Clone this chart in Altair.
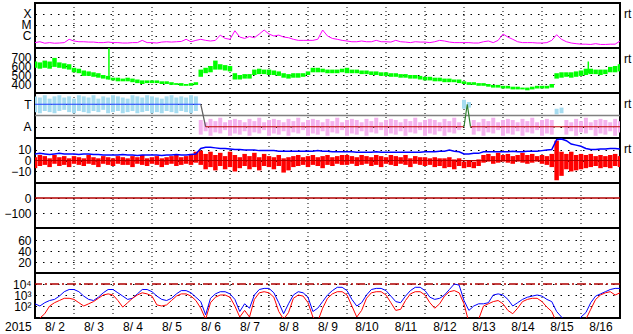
import altair as alt
import pandas as pd

FONT = "Liberation Sans"
FS = 12
W, H = 585, 45

T0 = pd.Timestamp("2015-08-02T00:00:00Z")
def ts(hours):
    return (T0 + pd.Timedelta(hours=hours)).strftime("%Y-%m-%dT%H:%M:%SZ")

# 3-hourly samples, 2015-08-02 00UT .. 2015-08-17 00UT
times = [ts(3 * i) for i in range(121)]

# ---- GOES X-ray flux (W/m2) ----
xray = [2.5e-7, 3e-7, 2.2e-7, 2.5e-7, 2.2e-7, 2.3e-7, 2.5e-7, 5e-7,
        3.5e-7, 3e-7, 3e-7, 2.8e-7, 2.8e-7, 2.5e-7, 2.5e-7, 2.8e-7,
        2.5e-7, 2.5e-7, 2.3e-7, 2.3e-7, 2.5e-7, 2.5e-7, 4e-7, 2.5e-7,
        2.5e-7, 2.3e-7, 2.8e-7, 3e-7, 2.8e-7, 3e-7, 3.2e-7, 5e-7,
        3e-7, 4e-7, 5e-7, 4e-7, 3.5e-7, 4e-7, 1.2e-6, 6e-7,
        5e-7, 3e-6, 8e-7, 6e-7, 9e-7, 7e-7, 1.5e-6, 3.5e-6,
        1.5e-6, 1e-6, 1.2e-6, 8e-7, 7e-7, 5e-7, 4e-7, 4e-7,
        4e-7, 4e-7, 5e-7, 3.5e-6, 1e-6, 6e-7, 5e-7, 4e-7,
        3.5e-7, 3e-7, 3e-7, 3.5e-7, 3e-7, 3e-7, 4e-7, 3e-7,
        3e-7, 2.8e-7, 4e-7, 3e-7, 2.8e-7, 2.5e-7, 3e-7, 2.8e-7,
        2.8e-7, 2.5e-7, 3e-7, 4e-7, 3.5e-7, 2.8e-7, 2.5e-7, 2.5e-7,
        2.5e-7, 2.5e-7, 2.3e-7, 2.3e-7, 3e-7, 3.5e-7, 2.5e-7, 4e-7,
        1.5e-6, 8e-7, 5e-7, 3e-7, 2.5e-7, 2.5e-7, 2.5e-7, 2.3e-7,
        2.3e-7, 2.5e-7, 4e-7, 1.3e-6, 5e-7, 3e-7, 2.3e-7, 2e-7,
        1.8e-7, 1.8e-7, 1.7e-7, 2e-7, 1.7e-7, 1.7e-7, 1.8e-7, 1.8e-7, 3.5e-7]

# ---- Solar wind speed (km/s), min / max in each 3h ----
speed_lo = [580, 570, 580, 570, 590, 580, 570, 560,
            530, 520, 490, 490, 480, 470, 460, 450,
            440, 430, 430, 430, 420, 410, 400, 410,
            410, 410, 400, 400, 390, 390, 380, 380,
            380, 390, 480, 520, 530, 560, 560, 550,
            540, 450, 450, 460, 460, 500, 510, 510,
            500, 500, 490, 470, 460, 470, 470, 480,
            500, 530, 530, 530, 520, 520, 520, 530,
            520, 520, 520, 510, 510, 500, 500, 490,
            490, 480, 480, 470, 470, 460, 460, 450,
            440, 440, 430, 430, 420, 420, 420, 410,
            400, 390, 390, 380, 380, 370, 360, 360,
            350, 350, 340, 340, 340, 330, 340, 350,
            350, 350, 360, 460, 470, 480, 470, 480,
            490, 500, 510, 510, 500, 510, 530, 530, 540]
speed_hi = [650, 640, 660, 650, 690, 640, 630, 620,
            580, 570, 550, 540, 530, 520, 500, 490,
            470, 470, 460, 470, 460, 450, 440, 440,
            440, 440, 430, 430, 420, 410, 410, 400,
            410, 420, 560, 580, 600, 660, 620, 610,
            600, 520, 500, 510, 510, 560, 570, 560,
            560, 550, 540, 520, 510, 520, 520, 520,
            540, 580, 580, 570, 560, 560, 560, 570,
            580, 560, 560, 550, 550, 540, 540, 530,
            530, 520, 520, 510, 510, 500, 500, 490,
            480, 480, 470, 470, 460, 460, 450, 450,
            430, 420, 420, 410, 410, 400, 390, 390,
            380, 380, 370, 370, 360, 360, 370, 380,
            380, 380, 400, 520, 530, 530, 530, 540,
            550, 570, 570, 560, 560, 560, 590, 600, 620]
spike_times = ["2015-08-03T21:30:00Z", "2015-08-16T04:30:00Z"]
spike_lo = [450, 520]
spike_hi = [800, 650]

# ---- IMF phi sector (T = +0.5, A = -0.5), min / max in each 3h ----
phi_lo = [0.15, 0.1, 0.2, 0.15, 0.1, 0.2, 0.25, 0.15, 0.1, 0.2, 0.15, 0.1, 0.2, 0.15, 0.25, 0.1,
          0.15, 0.2, 0.1, 0.15, 0.2, 0.1, 0.15, 0.2, 0.1, 0.15, 0.1, 0.2, 0.15, 0.1, 0.2, 0.15, 0.1, 0.2,
          -0.85, -0.7, -0.9, -0.75, -0.8, -0.65, -0.9, -0.8, -0.85, -0.7, -0.9, -0.75, -0.8, -0.65,
          -0.9, -0.8, -0.85, -0.7, -0.9, -0.75, -0.8, -0.65, -0.9, -0.8, -0.85, -0.7, -0.9, -0.75,
          -0.8, -0.65, -0.9, -0.8, -0.85, -0.7, -0.9, -0.75, -0.8, -0.65, -0.9, -0.8, -0.85, -0.7,
          -0.9, -0.75, -0.8, -0.65, -0.9, -0.8, -0.85, -0.7, -0.9, -0.75, -0.8, -0.65,
          0.3, 0.35,
          -0.85, -0.7, -0.9, -0.75, -0.8, -0.65, -0.9, -0.8, -0.85, -0.7, -0.9, -0.75, -0.8, -0.65,
          -0.9, -0.8, -0.85,
          0.05, 0.1,
          -0.85, -0.7, -0.9, -0.75, -0.8, -0.65, -0.9, -0.8, -0.85, -0.7, -0.9, -0.75]
phi_hi = [0.85, 0.8, 0.9, 0.75, 0.85, 0.9, 0.8, 0.85, 0.75, 0.9, 0.85, 0.8, 0.9, 0.75, 0.85, 0.8,
          0.9, 0.85, 0.8, 0.75, 0.9, 0.85, 0.8, 0.9, 0.85, 0.8, 0.75, 0.85, 0.9, 0.8, 0.85, 0.8, 0.9, 0.85,
          -0.2, -0.3, -0.15, -0.25, -0.1, -0.3, -0.2, -0.15, -0.2, -0.3, -0.15, -0.25, -0.1, -0.3,
          -0.2, -0.15, -0.2, -0.3, -0.15, -0.25, -0.1, -0.3, -0.2, -0.15, -0.2, -0.3, -0.15, -0.25,
          -0.1, -0.3, -0.2, -0.15, -0.2, -0.3, -0.15, -0.25, -0.1, -0.3, -0.2, -0.15, -0.2, -0.3,
          -0.15, -0.25, -0.1, -0.3, -0.2, -0.15, -0.2, -0.3, -0.15, -0.25, -0.1, -0.3,
          0.7, 0.6,
          -0.2, -0.3, -0.15, -0.25, -0.1, -0.3, -0.2, -0.15, -0.2, -0.3, -0.15, -0.25, -0.1, -0.3,
          -0.2, -0.15, -0.2,
          0.3, 0.35,
          -0.2, -0.3, -0.15, -0.25, -0.1, -0.3, -0.2, -0.15, -0.2, -0.3, -0.15, -0.25]
sector_times = ["2015-08-02T00:00:00Z", "2015-08-06T06:00:00Z",
                "2015-08-06T06:00:00Z", "2015-08-06T09:00:00Z",
                "2015-08-06T09:00:00Z", "2015-08-13T00:00:00Z",
                "2015-08-13T00:00:00Z", "2015-08-13T02:00:00Z", "2015-08-13T04:00:00Z",
                "2015-08-13T04:00:00Z", "2015-08-17T00:00:00Z"]
sector_vals = [0.5, 0.5, 0.5, -0.5, -0.5, -0.5, -0.5, 0.5, -0.5, -0.5, -0.5]
sector_seg = ["T", "T", "X", "X", "A1", "A1", "S", "S", "S", "A2", "A2"]

# ---- IMF Bt and Bz (nT) ----
bt = [6, 6.5, 6, 5.5, 6, 6.5, 6, 6, 6, 5.5, 6, 6, 5.5, 5.5, 5, 5,
      5, 5, 5.5, 5, 5, 4.5, 5, 5, 5, 5, 4.5, 5, 5, 5.5, 5, 5, 5.5, 6,
      11, 12, 12, 11.5, 11, 11, 10.5,
      10, 10, 9.5, 9.5, 9.5, 9, 9,
      9, 9, 8.5, 8.5, 8.5, 8.5, 8.5, 8.5, 8.5, 8.5, 9, 8.5, 8.5, 8, 8, 8,
      8, 8, 7.5, 7.5, 7.5, 7.5, 8, 7.5, 7.5, 7.5, 7.5, 7.5, 7.5, 7.5, 7.5, 7.5, 8, 8, 8, 8.5,
      8.5, 9.5, 8.5, 8,
      6, 6, 6.5, 6.5,
      8, 8, 8, 8, 8, 8, 8.5, 8, 8, 8.5, 8.5, 8.5, 9,
      9.5, 10,
      19, 19.5, 18,
      15, 14, 13,
      11, 10, 10, 10.5,
      10.5, 11, 11, 10.5]
bz_lo = [-7, -5, -4, -6, -3, -5, -4, -6, -3, -4, -5, -3, -4, -6, -3, -4,
         -5, -3, -4, -4, -6, -3, -4, -5, -3, -4, -6, -4, -3, -5, -4, -3, -4, -2,
         -4, -8, -6, -9, -5, -8, -6, -10, -7, -5, -8, -6, -9, -5,
         -6, -8, -5, -11, -9, -6, -5, -4, -6, -4, -5, -7, -4, -5, -3, -4,
         -4, -3, -5, -4, -3, -5, -4, -6, -3, -4, -5, -3, -4, -6, -3, -4, -5, -4, -6, -5,
         -7, -6, -8, -5,
         -7, -6, -7, -5,
         -2, -1, -3, -2, -1, -2, -3, -1, -2, -3, -2, -1, -3,
         -4, -6,
         -18, -14, -8,
         -10, -9, -8,
         -7, -6, -5, -7,
         -6, -7, -5, -6]
bz_hi = [3, 5, 4, 2, 5, 3, 4, 2, 4, 3, 2, 5, 3, 2, 4, 3,
         2, 4, 3, 2, 4, 3, 5, 2, 3, 4, 2, 3, 4, 5, 3, 4, 6, 8,
         9, 6, 8, 5, 7, 4, 8, 5, 3, 6, 4, 7, 3, 6,
         4, 3, 5, 2, 3, 4, 5, 3, 4, 5, 3, 4, 5, 3, 4, 5,
         5, 4, 3, 5, 4, 3, 5, 4, 3, 5, 4, 3, 5, 2, 4, 3, 3, 2, 3, 2,
         2, 3, 1, 2,
         -1, 0, -1, 1,
         5, 6, 4, 7, 5, 6, 4, 5, 7, 5, 6, 4, 5,
         4, 6,
         18, 8, 6,
         8, 5, 6,
         5, 6, 4, 5,
         4, 5, 6, 4]

# ---- GOES particle flux, log10 ----
flux_blue = [2.2, 2.0, 2.3, 2.5, 2.6, 2.9, 3.3, 3.5,
             3.5, 3.3, 2.9, 2.6, 2.5, 2.8, 3.2, 3.5,
             3.5, 3.2, 2.9, 2.6, 2.7, 3.1, 3.5, 3.5,
             3.3, 2.9, 2.6, 2.5, 2.7, 3.1, 3.4, 3.4,
             3.2, 2.8, 2.4, 1.2, 2.7, 3.1, 3.3, 3.3,
             3.1, 2.6, 1.5, 2.2, 1.8, 3.0, 3.5, 3.6,
             3.6, 3.2, 2.3, 1.3, 2.2, 3.0, 3.3, 3.2,
             2.8, 1.5, 1.8, 2.4, 3.0, 3.4, 3.7, 3.7,
             3.4, 2.6, 2.0, 2.3, 3.0, 3.5, 3.6, 3.6,
             3.4, 2.9, 2.4, 2.3, 2.9, 3.4, 3.7, 3.7,
             3.4, 2.8, 2.6, 2.7, 3.0, 3.5, 4.0, 3.9,
             2.5, 1.6, 2.0, 2.2, 2.2, 2.3, 3.0, 3.1,
             3.0, 2.6, 2.0, 2.3, 2.6, 2.8, 2.9, 3.0,
             2.9, 2.6, 2.4, 1.5, 1.0, 0.5, 0.5, 0.5,
             1.0, 1.4, 2.3, 2.9, 3.1, 3.3, 3.5, 3.6, 3.6]
flux_red = [0.5, 0.9, 1.3, 2.0, 2.3, 2.5, 2.7, 2.7,
            2.6, 2.3, 2.0, 2.2, 2.4, 2.7, 3.0, 3.1,
            3.0, 2.5, 1.9, 2.3, 2.7, 3.0, 3.2, 3.1,
            2.9, 2.1, 2.0, 2.1, 2.5, 2.9, 3.1, 3.1,
            2.9, 2.5, 1.8, 0.8, 2.3, 2.8, 3.0, 3.0,
            2.8, 2.0, 1.0, 1.6, 1.0, 2.6, 3.2, 3.3,
            3.2, 2.8, 1.5, 0.8, 1.4, 2.7, 3.0, 2.9,
            2.3, 1.0, 0.6, 1.8, 2.7, 3.1, 3.3, 3.3,
            3.0, 2.0, 1.0, 1.6, 2.7, 3.2, 3.3, 3.3,
            3.0, 2.3, 1.6, 1.7, 2.5, 3.1, 3.3, 3.3,
            3.0, 2.3, 1.8, 2.2, 2.9, 3.3, 3.4, 3.2,
            2.2, 0.5, 0.5, 0.8, 2.0, 2.2, 2.4, 2.5,
            2.2, 1.6, 1.3, 1.8, 2.4, 2.6, 2.7, 2.7,
            2.4, 1.9, 1.5, 0.5, 0.5, 0.5, 0.5, 0.5,
            0.5, 0.8, 1.7, 2.6, 3.0, 3.2, 3.3, 3.0, 3.2]

grid_days = ["2015-08-%02dT00:00:00Z" % d for d in range(3, 17)]

# ------------------------------------------------------------------
xscale = alt.Scale(type="utc",
                   domain=[alt.DateTime(year=2015, month=8, date=2, utc=True),
                           alt.DateTime(year=2015, month=8, date=17, utc=True)])

x_none = alt.X("t:T", scale=xscale, axis=None)
x_bottom = alt.X("t:T", scale=xscale,
                 axis=alt.Axis(values=[alt.DateTime(year=2015, month=8, date=d, hours=12, utc=True)
                                       for d in range(2, 17)],
                               labelExpr="utcFormat(datum.value, '%-m/%e')",
                               grid=False, ticks=False, domain=False, title=None,
                               labelPadding=3, labelFontSize=FS, labelFont=FONT,
                               labelColor="black", labelFlush=False, labelOverlap=False))


def yaxis(values, expr=None):
    kw = dict(values=values, grid=True, gridDash=[1.5, 6], gridColor="black", gridWidth=1,
              ticks=False, domain=False, title=None, labelPadding=4, labelFontSize=FS,
              labelFont=FONT, labelColor="black", labelOverlap=False, labelFlush=False)
    if expr:
        kw["labelExpr"] = expr
    return alt.Axis(**kw)


def vgrid(x):
    return alt.Chart(pd.DataFrame({"t": grid_days})).mark_rule(
        color="black", strokeDash=[1, 3], strokeWidth=1).encode(x=x)


def rt_label():
    return alt.Chart(pd.DataFrame({"s": ["rt"]})).mark_text(
        align="left", baseline="middle", fontSize=FS, font=FONT, color="black"
    ).encode(text="s:N", x=alt.value(W + 4), y=alt.value(11))


# Panel 1: X-ray
d1 = pd.DataFrame({"t": times, "v": xray})
ax1 = yaxis([1e-4, 1e-5, 1e-6], "datum.value > 5e-5 ? 'X' : (datum.value > 5e-6 ? 'M' : 'C')")
y1 = alt.Y("v:Q", scale=alt.Scale(type="log", domain=[8.1e-8, 1e-3]), axis=ax1)
p1 = alt.layer(
    vgrid(x_none),
    alt.Chart(d1).mark_line(color="#ff00ff", strokeWidth=1, clip=True).encode(x=x_none, y=y1),
    rt_label(),
).properties(width=W, height=H)

# Panel 2: speed
d2 = pd.DataFrame({"t": times, "lo": speed_lo, "hi": speed_hi})
d2s = pd.DataFrame({"t": spike_times, "lo": spike_lo, "hi": spike_hi})
sp_scale = alt.Scale(domain=[300, 800])
ax2 = yaxis([400, 500, 600, 700])
p2 = alt.layer(
    vgrid(x_none),
    alt.Chart(d2).mark_rule(color="#00ff00", strokeWidth=4.5, clip=True).encode(
        x=x_none, y=alt.Y("lo:Q", scale=sp_scale, axis=ax2), y2="hi:Q"),
    alt.Chart(d2s).mark_rule(color="#00ff00", strokeWidth=1.5, clip=True).encode(
        x=x_none, y=alt.Y("lo:Q", scale=sp_scale, axis=ax2), y2="hi:Q"),
    rt_label(),
).properties(width=W, height=H)

# Panel 3: phi
d3 = pd.DataFrame({"t": times, "lo": phi_lo, "hi": phi_hi})
ph_scale = alt.Scale(domain=[-1, 1])
ax3 = yaxis([0.5, -0.5], "datum.value > 0 ? 'T' : 'A'")
d3s = pd.DataFrame({"t": sector_times, "v": sector_vals, "seg": sector_seg})
p3 = alt.layer(
    vgrid(x_none),
    alt.Chart(d3).mark_rule(strokeWidth=4, clip=True).encode(
        x=x_none,
        y=alt.Y("lo:Q", scale=ph_scale, axis=ax3),
        y2="hi:Q",
        color=alt.condition("datum.hi > 0", alt.value("#a6dcf0"), alt.value("#f4b2ee"))),
    alt.Chart(pd.DataFrame({"v": [0]})).mark_rule(color="#808080", strokeWidth=1.5).encode(
        y=alt.Y("v:Q", scale=ph_scale, axis=ax3)),
    alt.Chart(d3s).mark_line(strokeWidth=1.2, clip=True).encode(
        x=x_none, y=alt.Y("v:Q", scale=ph_scale, axis=ax3), detail="seg:N",
        color=alt.Color("seg:N", legend=None,
                        scale=alt.Scale(domain=["T", "X", "A1", "S", "A2"],
                                        range=["#2040ff", "#606060", "#c00000", "#308030", "#c00000"]))),
    rt_label(),
).properties(width=W, height=H)

# Panel 4: Bt / Bz
d4 = pd.DataFrame({"t": times, "lo": bz_lo, "hi": bz_hi, "bt": bt})
b_scale = alt.Scale(domain=[-20.5, 20.5])
ax4 = yaxis([10, 0, -10])
p4 = alt.layer(
    vgrid(x_none),
    alt.Chart(d4).mark_rule(color="#ff0000", strokeWidth=4.5, clip=True).encode(
        x=x_none, y=alt.Y("lo:Q", scale=b_scale, axis=ax4), y2="hi:Q"),
    alt.Chart(pd.DataFrame({"v": [0]})).mark_rule(color="#b00000", strokeWidth=1.2).encode(
        y=alt.Y("v:Q", scale=b_scale, axis=ax4)),
    alt.Chart(d4).mark_line(color="#0000ff", strokeWidth=1.5, clip=True).encode(
        x=x_none, y=alt.Y("bt:Q", scale=b_scale, axis=ax4)),
    rt_label(),
).properties(width=W, height=H)

# Panel 5: Dst (no data, reference line)
d_scale5 = alt.Scale(domain=[-200, 100])
p5 = alt.layer(
    vgrid(x_none),
    alt.Chart(pd.DataFrame({"v": [0]})).mark_rule(color="#b00000", strokeWidth=1.5).encode(
        y=alt.Y("v:Q", scale=d_scale5, axis=yaxis([0, -100]))),
).properties(width=W, height=H)

# Panel 6: empty
d_scale6 = alt.Scale(domain=[0, 82])
p6 = alt.layer(
    vgrid(x_none),
    alt.Chart(pd.DataFrame({"v": [20]})).mark_rule(opacity=0).encode(
        y=alt.Y("v:Q", scale=d_scale6, axis=yaxis([20, 40, 60]))),
).properties(width=W, height=H)

# Panel 7: particle flux
d7 = pd.DataFrame({"t": times, "blue": flux_blue, "red": flux_red})
f_scale = alt.Scale(domain=[0.91, 5.0])
ax7 = yaxis([2, 3, 4], "datum.value == 4 ? '10⁴' : (datum.value == 3 ? '10³' : '10²')")
p7 = alt.layer(
    vgrid(x_bottom),
    alt.Chart(pd.DataFrame({"v": [4]})).mark_rule(
        color="#b00000", strokeWidth=1.5, strokeDash=[9, 3, 2, 3]).encode(
        y=alt.Y("v:Q", scale=f_scale, axis=ax7)),
    alt.Chart(d7).mark_line(color="#0000ff", strokeWidth=1, clip=True).encode(
        x=x_bottom, y=alt.Y("blue:Q", scale=f_scale, axis=ax7)),
    alt.Chart(d7).mark_line(color="#ff0000", strokeWidth=1, clip=True).encode(
        x=x_bottom, y=alt.Y("red:Q", scale=f_scale, axis=ax7)),
    alt.Chart(pd.DataFrame({"s": ["2015"]})).mark_text(
        align="left", baseline="middle", fontSize=FS, font=FONT, color="black"
    ).encode(text="s:N", x=alt.value(-30), y=alt.value(H + 9)),
).properties(width=W, height=H)

chart = alt.vconcat(p1, p2, p3, p4, p5, p6, p7, spacing=0, bounds="flush").properties(
    padding={"left": 2, "top": 1, "right": 0, "bottom": 0},
    background="white",
).configure_view(stroke="black", strokeWidth=2)

chart.save("out.html", embed_options={"renderer": "svg", "actions": False})
